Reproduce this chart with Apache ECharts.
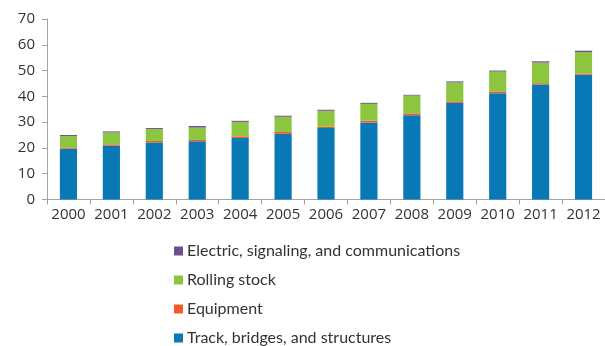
<!DOCTYPE html>
<html>
<head>
<meta charset="utf-8">
<script src="https://cdn.jsdelivr.net/npm/echarts@6/dist/echarts.min.js"></script>
<style>
  html, body { margin: 0; padding: 0; background: #fff; }
  #chart { width: 605px; height: 346px; }
</style>
</head>
<body>
<div id="chart"></div>
<script>
// Annual investment by asset type, 2000-2012
const years = ['2000', '2001', '2002', '2003', '2004', '2005', '2006', '2007', '2008', '2009', '2010', '2011', '2012'];
const trackBridges = [19.7, 20.9, 22.1, 22.6, 23.9, 25.5, 27.7, 29.9, 32.7, 37.5, 41.2, 44.6, 48.4];
const equipment    = [0.5, 0.5, 0.6, 0.5, 0.6, 0.7, 0.5, 0.7, 0.7, 0.6, 0.7, 0.5, 0.5];
const rollingStock = [4.4, 4.6, 4.6, 4.8, 5.6, 5.9, 6.2, 6.5, 6.9, 7.3, 7.7, 8.0, 8.2];
const electric     = [0.4, 0.4, 0.4, 0.6, 0.4, 0.4, 0.4, 0.4, 0.3, 0.4, 0.4, 0.5, 0.6];
const yTicks = [0, 10, 20, 30, 40, 50, 60, 70];

const seriesNames = ['Track, bridges, and structures', 'Equipment', 'Rolling stock', 'Electric, signaling, and communications'];
const seriesData = [trackBridges, equipment, rollingStock, electric];
const seriesColors = ['#0879b5', '#ee5a2c', '#8cc63f', '#6b508e'];

const axisGrey = '#a3a3a3';
const textColor = '#333333';

const chart = echarts.init(document.getElementById('chart'), null, { renderer: 'canvas' });
chart.setOption({
  animation: false,
  grid: { left: 47, top: 19, width: 564, height: 180.5, containLabel: false },
  legend: {
    orient: 'vertical',
    left: 169,
    top: 237,
    height: 140,
    data: seriesNames.slice().reverse(),
    icon: 'rect',
    itemWidth: 9,
    itemHeight: 9,
    itemGap: 11,
    textStyle: { fontFamily: 'Lato', fontSize: 16, color: textColor, lineHeight: 18, padding: [0, 0, 0, -1] }
  },
  xAxis: {
    type: 'category',
    data: years,
    axisLine: { lineStyle: { color: axisGrey, width: 1 } },
    axisTick: { show: true, length: 5, lineStyle: { color: axisGrey } },
    axisLabel: { interval: 0, fontFamily: 'Open Sans', fontSize: 15, color: textColor, margin: 8 }
  },
  yAxis: {
    type: 'value',
    min: yTicks[0],
    max: yTicks[yTicks.length - 1],
    interval: 10,
    axisLine: { show: true, lineStyle: { color: axisGrey, width: 1 } },
    axisTick: { show: true, length: 5, lineStyle: { color: axisGrey } },
    splitLine: { show: false },
    axisLabel: { fontFamily: 'Open Sans', fontSize: 15, color: textColor, margin: 12 }
  },
  series: seriesNames.map((name, i) => ({
    name: name,
    type: 'bar',
    stack: 'total',
    barWidth: '40%',
    data: seriesData[i],
    itemStyle: { color: seriesColors[i] }
  }))
});
</script>
</body>
</html>
